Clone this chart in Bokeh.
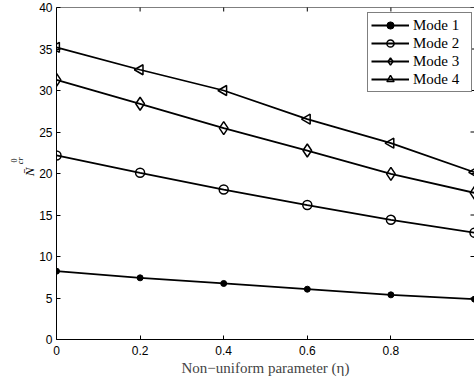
import numpy as np
from bokeh.plotting import figure
from bokeh.models import Range1d, FixedTicker, Legend, Span, Title
from bokeh.embed import file_html
from bokeh.resources import INLINE

eta = [0.0, 0.2, 0.4, 0.6, 0.8, 1.0]
mode1 = [8.23, 7.43, 6.75, 6.06, 5.38, 4.86]
mode2 = [22.17, 20.08, 18.07, 16.20, 14.42, 12.86]
mode3 = [31.29, 28.40, 25.46, 22.77, 19.96, 17.67]
mode4 = [35.20, 32.50, 30.00, 26.54, 23.65, 20.15]
x_ticks = [0, 0.2, 0.4, 0.6, 0.8]
y_ticks = [0, 5, 10, 15, 20, 25, 30, 35, 40]
x_label = "Non\u2212uniform parameter (\u03b7)"
y_label_main = "N\u0304"
y_label_sup = "0"
y_label_sub = "cr"

p = figure(width=474, height=382, output_backend="svg", toolbar_location=None,
           x_range=Range1d(0, 1), y_range=Range1d(0, 40),
           min_border_left=56, min_border_right=0, min_border_top=7, min_border_bottom=43)
p.outline_line_color = None
p.xgrid.visible = False
p.ygrid.visible = False

def style_axis(ax):
    ax.axis_line_color = "black"
    ax.axis_line_width = 1
    ax.major_tick_in = 4
    ax.major_tick_out = 0
    ax.minor_tick_line_color = None
    ax.major_tick_line_color = "black"
    ax.major_label_text_font = "Liberation Sans"
    ax.major_label_text_font_size = "12px"
    ax.major_label_text_color = "black"

xa = p.xaxis[0]
xa.ticker = FixedTicker(ticks=x_ticks)
style_axis(xa)
xa.major_label_standoff = 6
xa.axis_label = x_label
xa.axis_label_text_font = "Liberation Serif"
xa.axis_label_text_font_style = "normal"
xa.axis_label_text_font_size = "15px"
xa.axis_label_standoff = 2

ya = p.yaxis[0]
ya.ticker = FixedTicker(ticks=y_ticks)
style_axis(ya)
ya.major_label_standoff = 4

# top frame line and inward ticks on top / right edges
p.add_layout(Span(location=40, dimension="width", line_color="black", line_width=1))
p.scatter(x_ticks, [40] * len(x_ticks), marker="dash", angle=np.pi / 2, size=8,
          line_color="black", line_width=1)
p.scatter([1] * len(y_ticks), y_ticks, marker="dash", size=8, line_color="black", line_width=1)

lw = 1.8
r1l = p.line(eta, mode1, line_color="black", line_width=lw)
r1m = p.scatter(eta, mode1, marker="circle", size=6, fill_color="black", line_color="black")
r2l = p.line(eta, mode2, line_color="black", line_width=lw)
r2m = p.scatter(eta, mode2, marker="circle", size=9, fill_color=None, line_color="black", line_width=1.5)
r3l = p.line(eta, mode3, line_color="black", line_width=lw)
r3m = p.scatter(eta, mode3, marker="diamond", size=13, fill_color=None, line_color="black", line_width=1.5)
r4l = p.line(eta, mode4, line_color="black", line_width=lw)
r4m = p.scatter(eta, mode4, marker="triangle", size=10, angle=np.pi / 2, fill_color=None,
                line_color="black", line_width=1.5)

legend = Legend(items=[("Mode 1", [r1l, r1m]), ("Mode 2", [r2l, r2m]),
                       ("Mode 3", [r3l, r3m]), ("Mode 4", [r4l, r4m])],
                location=(311, 247))
legend.label_text_font = "Liberation Serif"
legend.label_text_font_size = "15px"
legend.label_text_color = "black"
legend.border_line_color = "black"
legend.border_line_width = 1
legend.background_fill_alpha = 1
legend.padding = 3
legend.spacing = 0
legend.margin = 0
legend.glyph_width = 38
legend.glyph_height = 18
legend.label_height = 18
legend.label_standoff = 4
legend.label_width = 55
p.add_layout(legend, "center")

# y-axis label: N-bar with superscript 0 and subscript cr (rotated title pieces)
t_main = Title(text=y_label_main, align="right", offset=160, standoff=0,
               text_font="Liberation Serif", text_font_style="italic",
               text_font_size="13px", text_color="black")
t_sub = Title(text=y_label_sub, align="right", offset=150, standoff=-10,
              text_font="Liberation Serif", text_font_style="italic",
              text_font_size="8px", text_color="black")
t_sup = Title(text=y_label_sup, align="right", offset=151, standoff=4,
              text_font="Liberation Serif", text_font_style="normal",
              text_font_size="8px", text_color="black")
p.add_layout(t_main, "left")
p.add_layout(t_sub, "left")
p.add_layout(t_sup, "left")

open("out.html", "w").write(file_html(p, INLINE))
